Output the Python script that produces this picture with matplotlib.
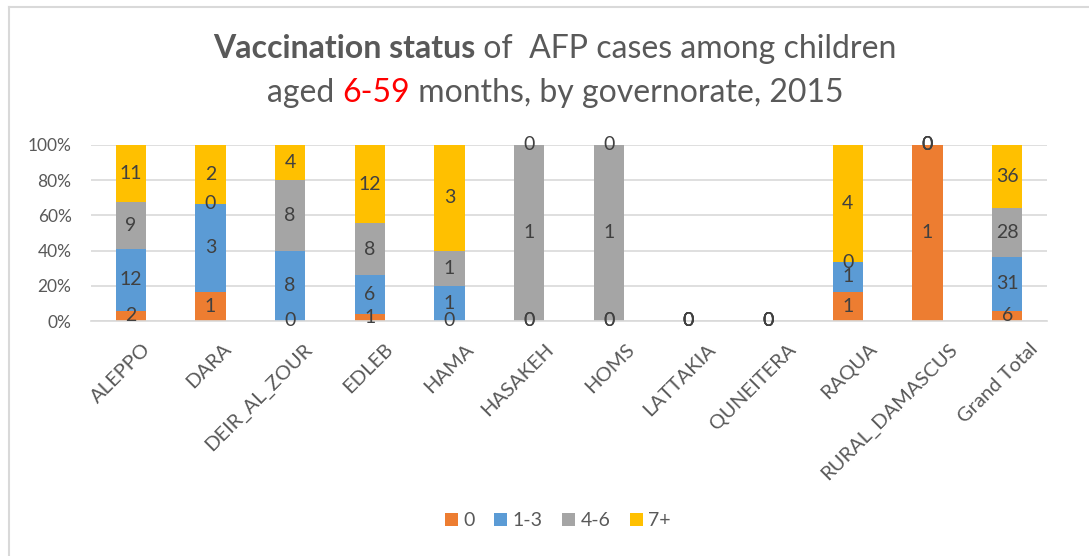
import numpy as np
import matplotlib
matplotlib.use("Agg")
import matplotlib.pyplot as plt
import matplotlib.transforms as mtransforms
from matplotlib.lines import Line2D

plt.rcParams['font.family'] = ['Lato', 'DejaVu Sans']

# Datos
governorates = ["ALEPPO", "DARA", "DEIR_AL_ZOUR", "EDLEB", "HAMA", "HASAKEH",
                "HOMS", "LATTAKIA", "QUNEITERA", "RAQUA", "RURAL_DAMASCUS",
                "Grand Total"]
doses_0 = [2, 1, 0, 1, 0, 0, 0, 0, 0, 1, 1, 6]
doses_1_3 = [12, 3, 8, 6, 1, 0, 0, 0, 0, 1, 0, 31]
doses_4_6 = [9, 0, 8, 8, 1, 1, 1, 0, 0, 0, 0, 28]
doses_7p = [11, 2, 4, 12, 3, 0, 0, 0, 0, 4, 0, 36]
series_names = ["0", "1-3", "4-6", "7+"]
colors = ["#ED7D31", "#5B9BD5", "#A5A5A5", "#FFC000"]

series = np.array([doses_0, doses_1_3, doses_4_6, doses_7p], dtype=float)
totals = series.sum(axis=0)
pct = np.divide(series, totals, out=np.zeros_like(series), where=totals > 0) * 100

W, H = 1089, 556
fig = plt.figure(figsize=(W / 100, H / 100), dpi=100)
ax = fig.add_axes([91 / W, 1 - 321 / H, (1047 - 91) / W, (321 - 145) / H])

x = np.arange(len(governorates))
bottom = np.zeros(len(governorates))
for i, name in enumerate(series_names):
    bars = ax.bar(x, pct[i], 0.38, bottom=bottom, color=colors[i], label=name,
                  zorder=2)
    ax.bar_label(bars, labels=[str(int(v)) for v in series[i]],
                 label_type="center", fontsize=14, color="#404040")
    bottom += pct[i]

ax.set_xlim(-0.5, len(governorates) - 0.5)
ax.set_ylim(0, 100)
ax.set_yticks(np.arange(0, 101, 20))
ax.set_yticklabels([f"{v}%" for v in range(0, 101, 20)])
ax.yaxis.grid(True, color="#D9D9D9", linewidth=1.2, zorder=0)
ax.set_axisbelow(True)
for s in ["top", "right", "left"]:
    ax.spines[s].set_visible(False)
ax.spines["bottom"].set_color("#D9D9D9")
ax.spines["bottom"].set_linewidth(1.2)
ax.tick_params(axis="y", length=0, labelsize=12.5, labelcolor="#595959", pad=14)
ax.tick_params(axis="x", length=0, labelsize=14.5, labelcolor="#595959", pad=14)
ax.set_xticks(x)
ax.set_xticklabels(governorates, rotation=45, ha="right", va="top",
                   rotation_mode="anchor")
# etiquetas algo desplazadas a la derecha, como en el original
for i, lab in enumerate(ax.get_xticklabels()):
    dx = (11 + 1.0 * i) / 100
    lab.set_transform(lab.get_transform() +
                      mtransforms.ScaledTranslation(dx, 0, fig.dpi_scale_trans))

# Titulo: partes en negrita y en rojo, centrado en x=555
fig.canvas.draw()
r = fig.canvas.get_renderer()


def linea_titulo(partes, y):
    textos = []
    for txt, peso, color in partes:
        textos.append(fig.text(0, y, txt, fontsize=23, fontweight=peso,
                               color=color, va="center", ha="left"))
    anchos = [t.get_window_extent(r).width for t in textos]
    x0 = 555 - sum(anchos) / 2
    for t, w in zip(textos, anchos):
        t.set_x(x0 / W)
        x0 += w


linea_titulo([("Vaccination status", "bold", "#595959"),
              (" of  AFP cases among children", "normal", "#595959")],
             1 - 49 / H)
linea_titulo([("aged ", "normal", "#595959"),
              ("6-59", "normal", "#FF0000"),
              (" months, by governorate, 2015", "normal", "#595959")],
             1 - 93 / H)

fig.legend(loc="center", bbox_to_anchor=(558 / W, 1 - 521 / H), ncol=4,
           frameon=False, fontsize=14, labelcolor="#595959",
           handlelength=0.65, handleheight=0.65, handletextpad=0.3,
           columnspacing=1.0)

# Marco
fig.add_artist(Line2D([9 / W, 9 / W], [0, 1 - 7 / H],
                      transform=fig.transFigure, color="#D9D9D9", lw=1.5))
fig.add_artist(Line2D([9 / W, 1], [1 - 7 / H, 1 - 7 / H],
                      transform=fig.transFigure, color="#D9D9D9", lw=1.5))

fig.savefig("out.png", dpi=100)
